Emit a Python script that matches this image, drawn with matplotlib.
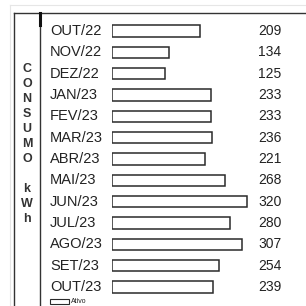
import matplotlib
matplotlib.use("Agg")
import matplotlib.pyplot as plt
from matplotlib.patches import Rectangle
from matplotlib.lines import Line2D

plt.rcParams['font.family'] = ['Liberation Sans', 'DejaVu Sans']

months = ["OUT/22", "NOV/22", "DEZ/22", "JAN/23", "FEV/23", "MAR/23", "ABR/23",
          "MAI/23", "JUN/23", "JUL/23", "AGO/23", "SET/23", "OUT/23"]
consumo = [209, 134, 125, 233, 233, 236, 221, 268, 320, 280, 307, 254, 239]
side_letters = ["C", "O", "N", "S", "U", "M", "O", "", "k", "W", "h"]
legend_label = "Ativo"

W = H = 306
fig = plt.figure(figsize=(W / 100, H / 100), dpi=100)
fig.patch.set_facecolor("white")

def fx(px):
    return px / W

def fy(py):
    return 1 - py / H

# layout in pixels
bar_left = 112
px_per_unit = 0.423
row0 = 31
row_step = 21.33
top_px = 13

ax = fig.add_axes([fx(bar_left), 0, 1 - fx(bar_left), fy(top_px)])
ax.set_xlim(0, (W - bar_left) / px_per_unit)
ax.set_ylim((H - row0) / row_step, (top_px - row0) / row_step)
ax.axis("off")

ypos = list(range(len(months)))
ax.barh(ypos, consumo, height=0.54, color="white", edgecolor="#2a2a2a", linewidth=1.1)

val_x = (258 - bar_left) / px_per_unit
lab_x = (50 - bar_left) / px_per_unit
for y, m, v in zip(ypos, months, consumo):
    ax.text(val_x, y, str(v), ha="left", va="center", fontsize=10, color="#222222")
    ax.text(lab_x, y, m, ha="left", va="center", fontsize=10.5, color="#222222", clip_on=False)

# frame lines
lc = "#333333"
fig.add_artist(Line2D([fx(14), 1], [fy(13), fy(13)], color=lc, lw=1.0))
fig.add_artist(Line2D([fx(14), fx(14)], [fy(13), 0], color=lc, lw=1.0))
fig.add_artist(Line2D([fx(39.5), fx(39.5)], [fy(13), 0], color=lc, lw=1.0))
fig.add_artist(Line2D([fx(39.5), fx(39.5)], [fy(13), fy(25)], color="#111111", lw=2.2))
# faint page edge
fig.add_artist(Line2D([fx(10), 1], [fy(5), fy(5)], color="#e6e6e6", lw=0.8))
fig.add_artist(Line2D([fx(10), fx(10)], [fy(5), 0], color="#e6e6e6", lw=0.8))

# vertical stacked title
for i, ch in enumerate(side_letters):
    if ch:
        fig.text(fx(27), fy(69 + 15 * i), ch, ha="center", va="center",
                 fontsize=9, color="#333333", fontweight="bold")

# legend
fig.add_artist(Rectangle((fx(50), fy(304)), fx(19), 5 / H, facecolor="white",
                         edgecolor="#2a2a2a", lw=0.8))
fig.text(fx(71), fy(301.5), legend_label, ha="left", va="center", fontsize=5, color="#222222")

fig.savefig("out.png", dpi=100, facecolor="white")
